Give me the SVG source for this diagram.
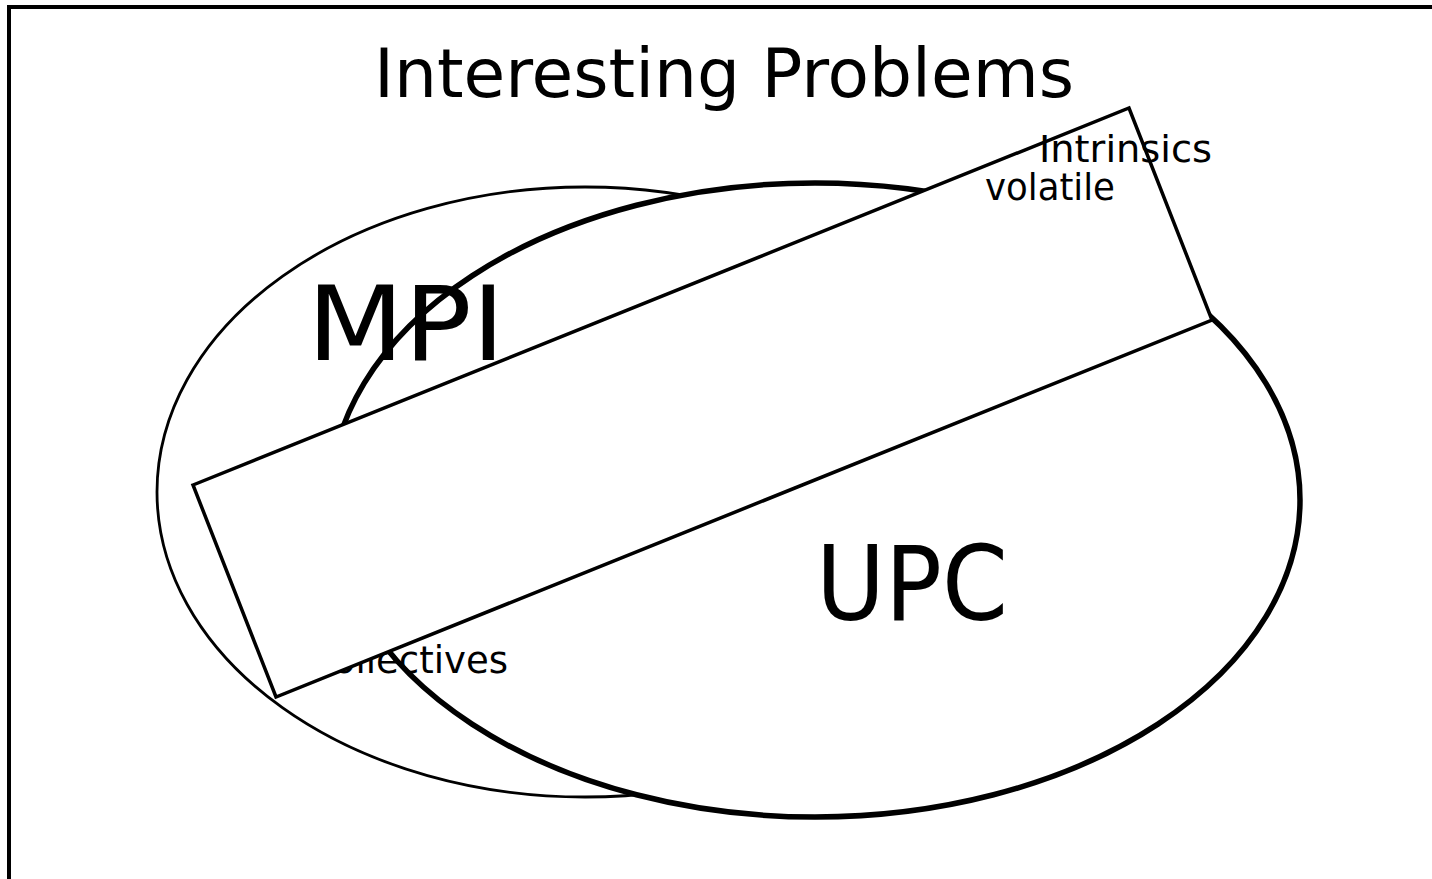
<svg xmlns="http://www.w3.org/2000/svg" width="1432" height="879" viewBox="0 0 1432 879">
  <style>
    .lbl { font-family: "DejaVu Sans", "Noto Sans", sans-serif; fill: #000; }
    .shape { fill: #fff; stroke: #000; }
  </style>
  <rect width="1432" height="879" fill="#fff"/>
  <!-- page frame -->
  <rect x="9" y="7" width="1500" height="1000" fill="none" stroke="#000" stroke-width="4"/>

  <text class="lbl" x="374" y="97" font-size="68" textLength="700" lengthAdjust="spacingAndGlyphs">Interesting Problems</text>

  <g id="mpi-set">
    <ellipse class="shape" cx="585" cy="492" rx="428" ry="305" stroke-width="2.8"/>
  </g>
  <g id="upc-set">
    <ellipse class="shape" cx="815" cy="500" rx="485" ry="317" stroke-width="5.5"/>
  </g>
  <text id="mpi-label" class="lbl" x="307" y="360" font-size="103" textLength="198" lengthAdjust="spacingAndGlyphs">MPI</text>
  <text id="collectives-label" class="lbl" x="307" y="673" font-size="37" textLength="201" lengthAdjust="spacingAndGlyphs">Collectives</text>

  <g id="overlap-band">
    <polygon class="shape" points="193,485 1129,108 1212,320 276,697" stroke-width="3.5"/>
  </g>

  <g id="overlap-labels">
    <text class="lbl" x="1039" y="162" font-size="38" textLength="173" lengthAdjust="spacingAndGlyphs">Intrinsics</text>
    <text class="lbl" x="985" y="200" font-size="38" textLength="130" lengthAdjust="spacingAndGlyphs">volatile</text>
  </g>
  <text id="upc-label" class="lbl" x="816" y="620" font-size="103" textLength="192" lengthAdjust="spacingAndGlyphs">UPC</text>
  <g id="connectors"/>
</svg>
